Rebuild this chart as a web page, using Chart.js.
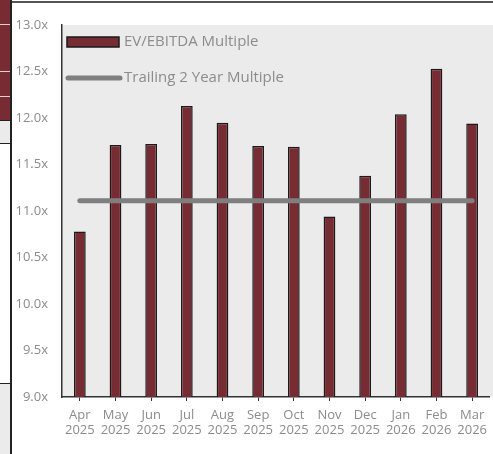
<!DOCTYPE html>
<html>
<head>
<meta charset="utf-8">
<script src="https://cdn.jsdelivr.net/npm/chart.js@4.4.1/dist/chart.umd.min.js"></script>
<style>
  body { margin: 0; width: 493px; height: 454px; overflow: hidden; background: #fff; position: relative; font-family: "Open Sans", sans-serif; }
  .strip { position: absolute; left: 0; width: 10px; }
  #wrap { position: absolute; left: 12px; top: 3px; width: 481px; height: 451px; }
</style>
</head>
<body>
<!-- bits of the neighbouring page on the left edge -->
<div class="strip" style="top:0;height:120px;background:#772b33;"></div>
<div class="strip" style="top:24px;height:1px;background:#e6cfd2;"></div>
<div class="strip" style="top:71px;height:1px;background:#e6cfd2;"></div>
<div class="strip" style="top:96px;height:1px;background:#e6cfd2;"></div>
<div class="strip" style="top:120px;height:1px;background:#222;"></div>
<div class="strip" style="top:121px;height:22px;background:#ebebeb;"></div>
<div class="strip" style="top:143px;height:1px;background:#222;"></div>
<div class="strip" style="top:383px;height:1px;background:#222;"></div>
<div class="strip" style="top:384px;height:70px;background:#ebebeb;"></div>
<div style="position:absolute;left:10px;top:0;width:2px;height:454px;background:#222;"></div>
<div style="position:absolute;left:12px;top:1px;width:481px;height:2px;background:#555;"></div>

<div id="wrap"><canvas id="myChart"></canvas></div>

<script>
const months = ['Apr', 'May', 'Jun', 'Jul', 'Aug', 'Sep', 'Oct', 'Nov', 'Dec', 'Jan', 'Feb', 'Mar'];
const years = ['2025', '2025', '2025', '2025', '2025', '2025', '2025', '2025', '2025', '2026', '2026', '2026'];
const evEbitda = [10.78, 11.71, 11.72, 12.13, 11.95, 11.70, 11.69, 10.94, 11.38, 12.04, 12.53, 11.94];
const trailing2yr = [11.11, 11.11, 11.11, 11.11, 11.11, 11.11, 11.11, 11.11, 11.11, 11.11, 11.11, 11.11];

const labels = [];
for (let i = 0; i < months.length; ++i) {
  labels.push([months[i], years[i]]);
}

const textGray = '#8c8c8c';

const plotBg = {
  id: 'plotBg',
  beforeDraw(chart) {
    const { ctx, chartArea } = chart;
    ctx.save();
    ctx.fillStyle = '#ebebeb';
    ctx.fillRect(chartArea.left, chartArea.top, chart.width - chartArea.left, chartArea.bottom - chartArea.top);
    ctx.restore();
  }
};

// legend sits inside the plot, top left
const innerLegend = {
  id: 'innerLegend',
  afterDraw(chart) {
    const { ctx, chartArea } = chart;
    const bar = chart.data.datasets[1];
    const line = chart.data.datasets[0];
    const x = chartArea.left;
    const y = chartArea.top;
    ctx.save();
    ctx.fillStyle = bar.backgroundColor;
    ctx.strokeStyle = bar.borderColor;
    ctx.lineWidth = 1.5;
    ctx.fillRect(x + 5, y + 12, 52, 10);
    ctx.strokeRect(x + 5, y + 12, 52, 10);

    ctx.strokeStyle = line.borderColor;
    ctx.lineWidth = 5;
    ctx.lineCap = 'round';
    ctx.beginPath();
    ctx.moveTo(x + 6, y + 53);
    ctx.lineTo(x + 58, y + 53);
    ctx.stroke();

    ctx.fillStyle = textGray;
    ctx.font = '15px "Open Sans"';
    ctx.textBaseline = 'middle';
    ctx.fillText(bar.label, x + 62, y + 17);
    ctx.fillText(line.label, x + 62, y + 53);
    ctx.restore();
  }
};

const ctx1 = document.getElementById('myChart').getContext('2d');
const myChart = new Chart(ctx1, {
  data: {
    labels: labels,
    datasets: [{
      type: 'line',
      label: 'Trailing 2 Year Multiple',
      data: trailing2yr,
      borderColor: '#7f7f7f',
      borderWidth: 5,
      borderCapStyle: 'round',
      pointRadius: 0,
      order: 0
    }, {
      type: 'bar',
      label: 'EV/EBITDA Multiple',
      data: evEbitda,
      backgroundColor: '#772b33',
      borderColor: '#1a1a1a',
      borderWidth: 1.5,
      barPercentage: 0.33,
      categoryPercentage: 1,
      order: 1
    }]
  },
  options: {
    responsive: true,
    maintainAspectRatio: false,
    animation: false,
    layout: { padding: { top: 22, right: 0, left: 0, bottom: 0 } },
    plugins: {
      legend: { display: false },
      tooltip: { enabled: false }
    },
    scales: {
      x: {
        grid: { offset: false, drawOnChartArea: false, drawTicks: true, tickLength: 4, color: '#333' },
        border: { color: '#333', width: 1.5 },
        ticks: { color: textGray, font: { family: 'Open Sans', size: 13 }, padding: 6, maxRotation: 0, autoSkip: false },
        afterFit(axis) { axis.height = 57; }
      },
      y: {
        min: 9,
        max: 13,
        grid: { display: false, drawTicks: false },
        border: { color: '#333', width: 1.5 },
        ticks: {
          stepSize: 0.5,
          color: textGray,
          font: { family: 'Open Sans', size: 13 },
          padding: 14,
          callback: (v) => v.toFixed(1) + 'x'
        },
        afterFit(axis) { axis.width = 50; }
      }
    }
  },
  plugins: [plotBg, innerLegend]
});
</script>
</body>
</html>
